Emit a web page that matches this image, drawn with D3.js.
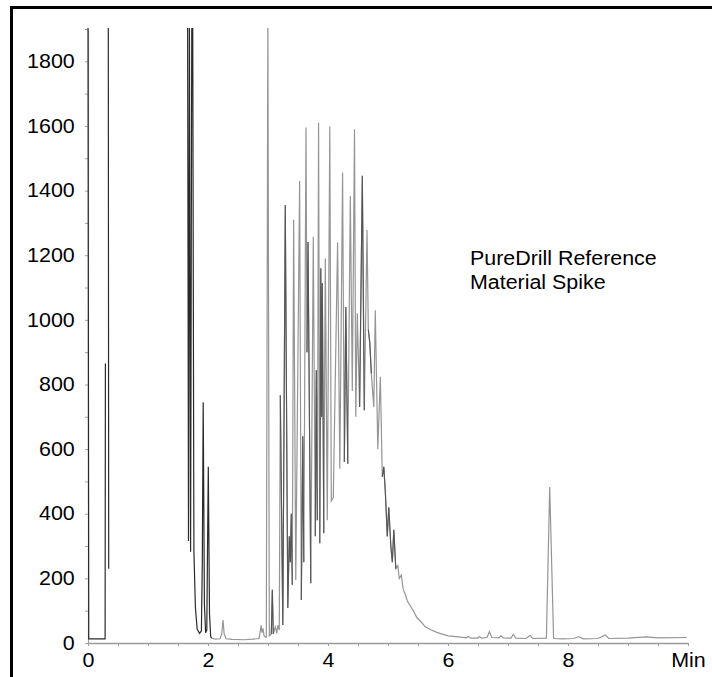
<!DOCTYPE html>
<html>
<head>
<meta charset="utf-8">
<script src="https://cdn.jsdelivr.net/npm/d3@7"></script>
<style>
  body { margin: 0; background: #fff; }
  svg text { font-family: "Liberation Sans", Arial, sans-serif; }
</style>
</head>
<body>
<div id="chart"></div>
<script>
// early trace (dark), null = gap in the recorded signal
var sampleTrace = [
    [0.000, 1950], [0.012, 13], [0.285, 13], [0.29, 865], null,
    [0.338, 1950], [0.345, 230], null,
    [1.66, 1950], [1.675, 316], [1.69, 1950], [1.71, 282], [1.73, 1950], [1.745, 1950],
    [1.765, 285], [1.79, 110], [1.82, 42], [1.86, 30], [1.89, 38], [1.905, 250], [1.92, 745],
    [1.94, 120], [1.96, 32], [1.98, 40], [1.99, 250], [2.005, 545], [2.025, 90], [2.045, 20], [2.06, 15]
];

// reference material spike trace (gray)
var spikeTrace = [
    [2.06, 15], [2.12, 12], [2.2, 13], [2.23, 28], [2.25, 71], [2.27, 28], [2.3, 13], [2.4, 11],
    [2.6, 10], [2.75, 12], [2.85, 14], [2.87, 35], [2.885, 55], [2.9, 32], [2.915, 45], [2.935, 22],
    [2.96, 18], [2.972, 18], [2.998, 1950], [3.022, 22], [3.055, 28], [3.072, 165], [3.088, 28],
    [3.122, 50], [3.147, 30], [3.163, 55], [3.188, 40], [3.205, 767], [3.247, 56], [3.288, 1355],
    [3.33, 108], [3.355, 330], [3.372, 250], [3.388, 400], [3.405, 180], [3.427, 1310], [3.463, 195],
    [3.527, 1430], [3.555, 133], [3.58, 640], [3.597, 250], [3.633, 1595], [3.65, 900], [3.667, 1241],
    [3.713, 185], [3.755, 1257], [3.788, 330], [3.805, 844], [3.822, 380], [3.843, 1610], [3.863, 309],
    [3.88, 1160], [3.893, 700], [3.905, 1113], [3.93, 340], [3.955, 1190], [3.988, 380], [4.03, 1598],
    [4.055, 440], [4.088, 450], [4.16, 1240], [4.197, 540], [4.243, 1456], [4.272, 560], [4.297, 1040],
    [4.33, 555], [4.372, 1383], [4.405, 780], [4.442, 1590], [4.463, 700], [4.488, 1020], [4.527, 730],
    [4.572, 1446], [4.605, 720], [4.65, 1278], [4.672, 970], [4.697, 928], [4.722, 835], [4.763, 730],
    [4.788, 1030], [4.83, 600], [4.872, 824], [4.905, 514], [4.93, 545], [4.955, 470], [4.988, 330],
    [5.013, 420], [5.047, 300], [5.072, 250], [5.097, 350], [5.13, 230], [5.163, 240], [5.188, 200],
    [5.222, 210], [5.255, 165], [5.288, 150], [5.322, 130], [5.372, 115], [5.422, 100], [5.483, 78],
    [5.538, 68], [5.622, 50], [5.705, 42], [5.822, 32], [6.005, 22], [6.205, 18], [6.3, 16], [6.34, 20],
    [6.38, 15], [6.5, 15], [6.52, 20], [6.56, 15], [6.65, 17], [6.69, 35], [6.73, 17], [6.85, 16],
    [6.88, 22], [6.92, 16], [7.05, 15], [7.09, 27], [7.13, 15], [7.3, 14], [7.37, 24], [7.41, 14],
    [7.64, 15], [7.695, 483], [7.76, 14], [7.9, 13], [8.1, 14], [8.18, 20], [8.25, 13], [8.5, 14],
    [8.62, 25], [8.68, 14], [9.0, 15], [9.3, 19], [9.5, 16], [9.98, 17]
];

// stretches of the spike trace where the darker trace lies on top
var darkWindows = [
    [3.05, 3.09], [3.19, 3.41], [3.55, 3.6], [3.645, 3.715], [3.785, 3.825],
    [3.86, 3.935], [4.27, 4.335], [4.525, 4.61], [4.665, 4.725], [4.9, 5.13]
];

var xTicks = d3.range(0, 10.01, 0.5);
var yTicks = d3.range(0, 1901, 100);
var labelLines = ["PureDrill Reference", "Material Spike"];

function init() {
    var w = 712;
    var h = 677;
    var fs = 19.5;
    var stretch = "scale(1.1,1)";

    var svg = d3.select("#chart")
                .append("svg")
                .attr("width", w)
                .attr("height", h);

    // frame (only top/left edges are inside the window)
    svg.append("rect")
        .attr("x", 11.5).attr("y", 7.5)
        .attr("width", 760).attr("height", 760)
        .attr("fill", "none")
        .attr("stroke", "#000")
        .attr("stroke-width", 3);

    var xScale = d3.scaleLinear().domain([0, 10]).range([88, 688]);
    var yScale = d3.scaleLinear().domain([0, 1900]).range([643, 29]);

    svg.append("clipPath").attr("id", "plotClip")
        .append("rect")
        .attr("x", 80).attr("y", yScale(1900) - 1)
        .attr("width", 620).attr("height", 643 - yScale(1900) + 10);

    var xAxis = d3.axisBottom(xScale)
                  .tickValues(xTicks)
                  .tickSize(3)
                  .tickSizeOuter(0)
                  .tickPadding(7)
                  .tickFormat(function(d) {
                      if (d === 10) return "Min";
                      return d % 2 === 0 ? d : "";
                  });

    var yAxis = d3.axisLeft(yScale)
                  .tickValues(yTicks)
                  .tickSize(3)
                  .tickSizeOuter(0)
                  .tickPadding(9)
                  .tickFormat(function(d) { return d % 200 === 0 ? d : ""; });

    var gx = svg.append("g")
        .attr("transform", "translate(0, 643)")
        .call(xAxis);
    gx.select(".domain").attr("stroke", "#9a9a9a").attr("stroke-width", 1.6);

    var gy = svg.append("g")
        .attr("transform", "translate(88, 0)")
        .call(yAxis);
    gy.select(".domain").attr("stroke", "#a0a0a0").attr("stroke-width", 1.2);

    [gx, gy].forEach(function(g) {
        g.selectAll(".tick line").attr("stroke", "#a0a0a0");
        g.selectAll(".tick text")
            .attr("fill", "#000")
            .attr("font-size", fs)
            .attr("font-family", "Liberation Sans, Arial, sans-serif")
            .attr("transform", stretch);
    });

    var line = d3.line()
        .defined(function(d) { return d !== null; })
        .x(function(d) { return xScale(d[0]); })
        .y(function(d) { return yScale(d[1]); });

    var plot = svg.append("g").attr("clip-path", "url(#plotClip)");

    plot.append("path")
        .datum(spikeTrace)
        .attr("fill", "none")
        .attr("stroke", "#959595")
        .attr("stroke-width", 1.2)
        .attr("d", line);

    darkWindows.forEach(function(win) {
        var seg = spikeTrace.filter(function(d) { return d[0] >= win[0] && d[0] <= win[1]; });
        plot.append("path")
            .datum(seg)
            .attr("fill", "none")
            .attr("stroke", "#555")
            .attr("stroke-width", 1.1)
            .attr("d", line);
    });

    plot.append("path")
        .datum(sampleTrace)
        .attr("fill", "none")
        .attr("stroke", "#2a2a2a")
        .attr("stroke-width", 1.2)
        .attr("d", line);

    // annotation
    labelLines.forEach(function(t, i) {
        svg.append("text")
            .attr("transform", "translate(470," + (265 + i * 23.5) + ") scale(1.07,1)")
            .attr("font-size", 20)
            .attr("fill", "#000")
            .text(t);
    });
}
window.onload = init;
</script>
</body>
</html>
